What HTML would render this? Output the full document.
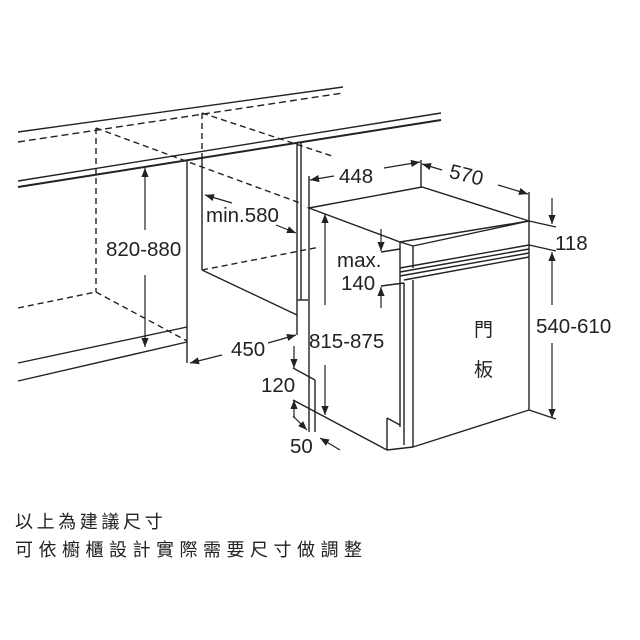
<!DOCTYPE html>
<html><head><meta charset="utf-8"><style>
html,body{margin:0;padding:0;background:#fff;width:640px;height:640px;overflow:hidden}
svg{display:block}
text{font-family:"Liberation Sans","Noto Sans CJK TC",sans-serif;fill:#222}
</style></head><body>
<svg width="640" height="640" viewBox="0 0 640 640" xmlns="http://www.w3.org/2000/svg">
<defs>
<marker id="a" viewBox="0 0 10 10" refX="10" refY="5" markerWidth="15" markerHeight="9" markerUnits="userSpaceOnUse" orient="auto-start-reverse"><path d="M0,1 L10,5 L0,9 z" fill="#222"/></marker>
</defs>
<g stroke="#222" stroke-width="1.4" fill="none">
<!-- countertop -->
<line x1="18" y1="132" x2="343" y2="87"/>
<line x1="18" y1="142" x2="343" y2="93" stroke-dasharray="7,4"/>
<line x1="18" y1="181" x2="441" y2="113"/>
<line x1="18" y1="187" x2="441" y2="120" stroke-width="2"/>
<g stroke-dasharray="6,4">
<line x1="96" y1="128" x2="96" y2="292"/>
<line x1="96" y1="128" x2="300" y2="203"/>
<line x1="202" y1="113" x2="202" y2="158"/>
<line x1="202" y1="113" x2="335" y2="157"/>
<line x1="18" y1="308" x2="96" y2="292"/>
<line x1="96" y1="292" x2="187" y2="341"/>
<line x1="202" y1="270" x2="320" y2="247"/>
</g>
<line x1="18" y1="363" x2="187" y2="327"/>
<line x1="18" y1="381" x2="187" y2="342"/>
<line x1="187" y1="160" x2="187" y2="363"/>
<line x1="202" y1="157" x2="202" y2="270"/>
<line x1="202" y1="270" x2="297" y2="315"/>
<line x1="297" y1="142" x2="297" y2="335"/>
<line x1="301" y1="143" x2="301" y2="300"/>
<line x1="297" y1="300" x2="308" y2="300"/>
<!-- dishwasher -->
<polygon points="309,208 422,187 529,221 400,242"/>
<line x1="309" y1="208" x2="309" y2="432"/>
<line x1="400" y1="242" x2="400" y2="427"/>
<line x1="404" y1="283" x2="404" y2="445"/>
<line x1="413" y1="280" x2="413" y2="447"/>
<line x1="400" y1="242" x2="413" y2="246"/>
<line x1="413" y1="246" x2="529" y2="221"/>
<line x1="529" y1="221" x2="529" y2="410"/>
<line x1="413" y1="447" x2="529" y2="410"/>
<line x1="413" y1="246" x2="413" y2="268"/>
<line x1="400" y1="268" x2="529" y2="245"/>
<line x1="400" y1="272" x2="529" y2="249"/>
<line x1="400" y1="276" x2="529" y2="253"/>
<line x1="404" y1="280" x2="529" y2="257"/>
<line x1="293" y1="400" x2="387" y2="450"/>
<line x1="387" y1="418" x2="387" y2="450"/>
<line x1="387" y1="418" x2="400" y2="425"/>
<line x1="387" y1="450" x2="413" y2="447"/>
<line x1="293" y1="368" x2="315" y2="380"/>
<line x1="315" y1="380" x2="315" y2="432"/>
<line x1="309" y1="176" x2="309" y2="208"/>
<line x1="421" y1="160" x2="421" y2="187"/>
<line x1="529" y1="192" x2="529" y2="221"/>
<line x1="529" y1="221" x2="556" y2="227"/>
<line x1="529" y1="245" x2="556" y2="251"/>
<line x1="529" y1="410" x2="556" y2="419"/>
<line x1="381" y1="252" x2="400" y2="249"/>
<line x1="381" y1="286" x2="404" y2="283"/>
</g>
<g stroke="#222" stroke-width="1.2" fill="none">
<line x1="145" y1="230" x2="145" y2="168" marker-end="url(#a)"/>
<line x1="145" y1="275" x2="145" y2="347" marker-end="url(#a)"/>
<line x1="232" y1="203" x2="205" y2="195" marker-end="url(#a)"/>
<line x1="276" y1="225" x2="296" y2="233" marker-end="url(#a)"/>
<line x1="222" y1="355" x2="190" y2="363" marker-end="url(#a)"/>
<line x1="268" y1="343" x2="296" y2="335" marker-end="url(#a)"/>
<line x1="334" y1="176" x2="310" y2="180" marker-end="url(#a)"/>
<line x1="384" y1="168" x2="420" y2="162" marker-end="url(#a)"/>
<line x1="442" y1="170" x2="422" y2="164" marker-end="url(#a)"/>
<line x1="498" y1="185" x2="528" y2="194" marker-end="url(#a)"/>
<line x1="552" y1="198" x2="552" y2="224" marker-end="url(#a)"/>
<line x1="552" y1="305" x2="552" y2="252" marker-end="url(#a)"/>
<line x1="552" y1="343" x2="552" y2="418" marker-end="url(#a)"/>
<line x1="381" y1="229" x2="381" y2="251" marker-end="url(#a)"/>
<line x1="381" y1="308" x2="381" y2="287" marker-end="url(#a)"/>
<line x1="325" y1="305" x2="325" y2="214" marker-end="url(#a)"/>
<line x1="325" y1="365" x2="325" y2="415" marker-end="url(#a)"/>
<line x1="294" y1="346" x2="294" y2="368" marker-end="url(#a)"/>
<line x1="294" y1="418" x2="294" y2="400" marker-end="url(#a)"/>
<line x1="293" y1="416" x2="307" y2="430" marker-end="url(#a)"/>
<line x1="340" y1="450" x2="320" y2="438" marker-end="url(#a)"/>
</g>
<g font-size="20.5">
<text x="106" y="256">820-880</text>
<text x="206" y="222">min.580</text>
<text x="231" y="356">450</text>
<text x="339" y="183">448</text>
<text x="449" y="182" transform="rotate(14 467 176)">570</text>
<text x="555" y="250">118</text>
<text x="536" y="333">540-610</text>
<text x="337" y="267">max.</text>
<text x="341" y="290">140</text>
<text x="309" y="348">815-875</text>
<text x="261" y="392">120</text>
<text x="290" y="453">50</text>
<text x="474" y="336" font-size="19">門</text>
<text x="474" y="376" font-size="19">板</text>
</g>
<text x="15" y="528" font-size="18" letter-spacing="3.6">以上為建議尺寸</text>
<text x="15" y="556" font-size="18" letter-spacing="5.5">可依櫥櫃設計實際需要尺寸做調整</text>
</svg>
</body></html>
